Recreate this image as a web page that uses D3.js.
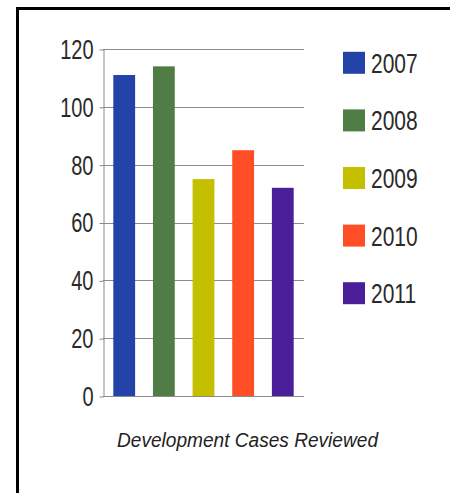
<!DOCTYPE html>
<html>
<head>
<meta charset="utf-8">
<script src="https://cdn.jsdelivr.net/npm/d3@7"></script>
<style>
  body { margin: 0; background: #fff; }
  svg { display: block; }
</style>
</head>
<body>
<svg id="chart"></svg>
<script>
const WIDTH = 450
const HEIGHT = 493

const years = ['2007', '2008', '2009', '2010', '2011']
const cases = [111, 114, 75, 85, 72]
const colors = ['#2443a8', '#4f7d45', '#c4c000', '#ff4d26', '#4a1f99']
const yTicks = [0, 20, 40, 60, 80, 100, 120]
const title = 'Development Cases Reviewed'

const data = years.map((y, i) => ({ year: y, value: cases[i], color: colors[i] }))

const svg = d3.select('#chart')
    .attr('width', WIDTH)
    .attr('height', HEIGHT)

// frame, only the top and left edges show in the picture
svg.append('rect')
    .attr('x', 17.5)
    .attr('y', 8.5)
    .attr('width', 600)
    .attr('height', 600)
    .attr('fill', 'none')
    .attr('stroke', '#000')
    .attr('stroke-width', 3)

const plot = { left: 103, right: 304, top: 49, bottom: 396 }

const x = d3.scaleBand()
    .domain(years)
    .range([plot.left, plot.right])
    .paddingInner(0.45)
    .paddingOuter(0.26)

const y = d3.scaleLinear()
    .domain([0, 120])
    .range([plot.bottom, plot.top])

// gridlines
svg.append('g')
    .selectAll('line')
    .data(yTicks)
    .join('line')
    .attr('x1', plot.left)
    .attr('x2', plot.right)
    .attr('y1', d => Math.round(y(d)) + 0.5)
    .attr('y2', d => Math.round(y(d)) + 0.5)
    .attr('stroke', '#8a8a8a')
    .attr('stroke-width', 1)

// bars
svg.append('g')
    .selectAll('rect')
    .data(data)
    .join('rect')
    .attr('x', d => x(d.year))
    .attr('y', d => y(d.value))
    .attr('width', x.bandwidth())
    .attr('height', d => y(0) - y(d.value))
    .attr('fill', d => d.color)

// y axis
const yAxis = svg.append('g')
    .attr('transform', `translate(${plot.left + 0.5}, 0.5)`)
    .call(d3.axisLeft(y).tickValues(yTicks).tickSize(4).tickPadding(6).tickSizeOuter(0))

yAxis.select('.domain').attr('stroke', '#8a8a8a')
yAxis.selectAll('.tick line').attr('stroke', '#8a8a8a')
yAxis.selectAll('.tick text')
    .attr('font-family', 'Liberation Sans, Arial, sans-serif')
    .attr('font-size', 20)
    .attr('fill', '#2a2a2a')
    .attr('transform', 'scale(1, 1.38)')

// legend
const ly = d3.scaleBand()
    .domain(years)
    .range([34, 322])

const legend = svg.append('g')
    .selectAll('g')
    .data(data)
    .join('g')
    .attr('transform', d => `translate(343, ${ly(d.year) + ly.bandwidth() / 2})`)

legend.append('rect')
    .attr('x', 0)
    .attr('y', -11)
    .attr('width', 22)
    .attr('height', 22)
    .attr('fill', d => d.color)

legend.append('text')
    .attr('x', 28)
    .attr('dy', '0.35em')
    .attr('font-family', 'Liberation Sans, Arial, sans-serif')
    .attr('font-size', 21)
    .attr('fill', '#2a2a2a')
    .attr('transform', 'scale(1, 1.36)')
    .text(d => d.year)

// caption
svg.append('text')
    .attr('x', 247.5)
    .attr('y', 447)
    .attr('text-anchor', 'middle')
    .attr('font-family', 'Liberation Sans, Arial, sans-serif')
    .attr('font-style', 'italic')
    .attr('font-size', 20)
    .attr('fill', '#222')
    .attr('textLength', 261)
    .attr('lengthAdjust', 'spacingAndGlyphs')
    .text(title)
</script>
</body>
</html>
